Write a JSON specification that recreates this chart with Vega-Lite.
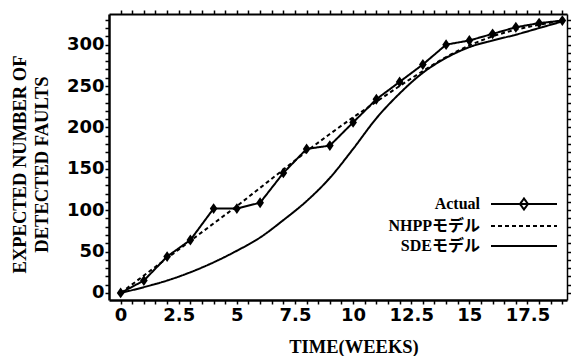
{
  "$schema": "https://vega.github.io/schema/vega-lite/v6.json",
  "width": 458,
  "height": 286,
  "autosize": "none",
  "padding": {"left": 109, "top": 14, "right": 4, "bottom": 56},
  "background": "white",
  "config": {
    "view": {"stroke": null},
    "axis": {"grid": false, "domainColor": "black", "tickColor": "black", "labelColor": "black", "titleColor": "black"}
  },
  "data": {"values": [
    {"series": "Actual", "t": 0, "y": 0}, {"series": "Actual", "t": 1, "y": 15}, {"series": "Actual", "t": 2, "y": 44}, {"series": "Actual", "t": 3, "y": 64}, {"series": "Actual", "t": 4, "y": 102}, {"series": "Actual", "t": 5, "y": 102}, {"series": "Actual", "t": 6, "y": 109}, {"series": "Actual", "t": 7, "y": 145}, {"series": "Actual", "t": 8, "y": 174}, {"series": "Actual", "t": 9, "y": 178}, {"series": "Actual", "t": 10, "y": 206}, {"series": "Actual", "t": 11, "y": 234}, {"series": "Actual", "t": 12, "y": 255}, {"series": "Actual", "t": 13, "y": 276}, {"series": "Actual", "t": 14, "y": 300}, {"series": "Actual", "t": 15, "y": 305}, {"series": "Actual", "t": 16, "y": 313}, {"series": "Actual", "t": 17, "y": 321}, {"series": "Actual", "t": 18, "y": 326}, {"series": "Actual", "t": 19, "y": 329},
    {"series": "NHPPモデル", "t": 0, "y": 0}, {"series": "NHPPモデル", "t": 1, "y": 21}, {"series": "NHPPモデル", "t": 2, "y": 42}, {"series": "NHPPモデル", "t": 3, "y": 63}, {"series": "NHPPモデル", "t": 4, "y": 84}, {"series": "NHPPモデル", "t": 5, "y": 105}, {"series": "NHPPモデル", "t": 6, "y": 127}, {"series": "NHPPモデル", "t": 7, "y": 149}, {"series": "NHPPモデル", "t": 8, "y": 171}, {"series": "NHPPモデル", "t": 9, "y": 192}, {"series": "NHPPモデル", "t": 10, "y": 212}, {"series": "NHPPモデル", "t": 11, "y": 231}, {"series": "NHPPモデル", "t": 12, "y": 250}, {"series": "NHPPモデル", "t": 13, "y": 268}, {"series": "NHPPモデル", "t": 14, "y": 285}, {"series": "NHPPモデル", "t": 15, "y": 299}, {"series": "NHPPモデル", "t": 16, "y": 310}, {"series": "NHPPモデル", "t": 17, "y": 318}, {"series": "NHPPモデル", "t": 18, "y": 324}, {"series": "NHPPモデル", "t": 19, "y": 329},
    {"series": "SDEモデル", "t": 0, "y": 0}, {"series": "SDEモデル", "t": 1, "y": 7}, {"series": "SDEモデル", "t": 2, "y": 15}, {"series": "SDEモデル", "t": 3, "y": 25}, {"series": "SDEモデル", "t": 4, "y": 37}, {"series": "SDEモデル", "t": 5, "y": 51}, {"series": "SDEモデル", "t": 6, "y": 67}, {"series": "SDEモデル", "t": 7, "y": 88}, {"series": "SDEモデル", "t": 8, "y": 111}, {"series": "SDEモデル", "t": 9, "y": 139}, {"series": "SDEモデル", "t": 10, "y": 174}, {"series": "SDEモデル", "t": 11, "y": 211}, {"series": "SDEモデル", "t": 12, "y": 241}, {"series": "SDEモデル", "t": 13, "y": 266}, {"series": "SDEモデル", "t": 14, "y": 284}, {"series": "SDEモデル", "t": 15, "y": 297}, {"series": "SDEモデル", "t": 16, "y": 305}, {"series": "SDEモデル", "t": 17, "y": 312}, {"series": "SDEモデル", "t": 18, "y": 320}, {"series": "SDEモデル", "t": 19, "y": 328}
  ]},
  "layer": [
    {
      "transform": [{"filter": "datum.series !== 'Actual'"}],
      "mark": {"type": "line", "interpolate": "monotone", "strokeWidth": 2, "color": "black"},
      "encoding": {
        "x": {"field": "t", "type": "quantitative",
          "scale": {"domain": [-0.5, 19.2], "nice": false, "zero": false},
          "axis": {"orient": "bottom", "title": "TIME(WEEKS)", "format": "~g",
            "values": [0,0.5,1,1.5,2,2.5,3,3.5,4,4.5,5,5.5,6,6.5,7,7.5,8,8.5,9,9.5,10,10.5,11,11.5,12,12.5,13,13.5,14,14.5,15,15.5,16,16.5,17,17.5,18,18.5,19],
            "labelExpr": "datum.value % 2.5 === 0 ? datum.label : ''",
            "labelFont": "DejaVu Sans", "labelFontWeight": "bold", "labelFontSize": 18,
            "labelPadding": 2, "labelOverlap": false, "labelFlush": false,
            "ticks": true, "tickSize": 4, "tickWidth": 1.5, "domainWidth": 2.5,
            "encode": {"ticks": {"update": {"y2": {"value": -4}}}},
            "titleFont": "Liberation Serif", "titleFontSize": 18.5, "titleFontWeight": "bold",
            "titleX": 244.5, "titleY": 52, "titleBaseline": "alphabetic", "titleAlign": "center"}},
        "y": {"field": "y", "type": "quantitative",
          "scale": {"domain": [-8.5, 337], "nice": false, "zero": false},
          "axis": {"orient": "left", "title": ["EXPECTED NUMBER OF", "DETECTED FAULTS"],
            "values": [0,10,20,30,40,50,60,70,80,90,100,110,120,130,140,150,160,170,180,190,200,210,220,230,240,250,260,270,280,290,300,310,320,330],
            "labelExpr": "datum.value % 50 === 0 ? datum.label : ''",
            "labelFont": "DejaVu Sans", "labelFontWeight": "bold", "labelFontSize": 18,
            "labelPadding": 1, "labelOverlap": false, "labelFlush": false,
            "ticks": true, "tickSize": 4, "tickWidth": 1.5, "domainWidth": 2.5,
            "encode": {"ticks": {"update": {"x2": {"value": 4}}}},
            "titleFont": "Liberation Serif", "titleFontSize": 18.5, "titleFontWeight": "bold",
            "titleX": -90, "titleY": 150, "titleAngle": -90, "titleBaseline": "middle", "titleAlign": "center", "titleLineHeight": 22}},
        "strokeDash": {"field": "series", "type": "nominal",
          "scale": {"domain": ["Actual", "NHPPモデル", "SDEモデル"], "range": [[1, 0], [4, 3], [1, 0]]},
          "legend": {"orient": "none", "legendX": 366, "legendY": 182, "title": null,
            "symbolType": {"expr": "datum.value === 'Actual' ? 'M-6.6,0H6.6M0,-1.1L0.8,0L0,1.1L-0.8,0Z' : 'M-6.6,0H6.6'"},
            "symbolSize": 100, "symbolStrokeWidth": 2, "symbolOffset": 41,
            "labelAlign": "right", "labelOffset": -52,
            "labelFont": "Liberation Serif, Noto Sans CJK JP", "labelFontSize": 16, "labelFontWeight": "bold", "labelColor": "black",
            "rowPadding": 4, "padding": 0,
            "encode": {"symbols": {"fill": {"value": "black"}, "fillOpacity": {"value": 1}, "stroke": {"value": "black"}}}}}
      }
    },
    {
      "transform": [{"filter": "datum.series === 'Actual'"}],
      "mark": {"type": "line", "strokeWidth": 2, "color": "black"},
      "encoding": {
        "x": {"field": "t", "type": "quantitative", "axis": null},
        "y": {"field": "y", "type": "quantitative", "axis": null},
        "strokeDash": {"field": "series", "type": "nominal"}
      }
    },
    {
      "transform": [{"filter": "datum.series === 'Actual'"}],
      "mark": {"type": "point", "shape": "M0,-1.2L0.85,0L0,1.2L-0.85,0Z", "filled": true, "size": 81, "color": "black", "opacity": 1},
      "encoding": {
        "x": {"field": "t", "type": "quantitative",
          "axis": {"orient": "top", "title": null, "labels": false,
            "values": [0,0.5,1,1.5,2,2.5,3,3.5,4,4.5,5,5.5,6,6.5,7,7.5,8,8.5,9,9.5,10,10.5,11,11.5,12,12.5,13,13.5,14,14.5,15,15.5,16,16.5,17,17.5,18,18.5,19],
            "ticks": true, "tickSize": 4, "tickWidth": 1.5, "domainWidth": 2,
            "encode": {"ticks": {"update": {"y2": {"value": 4}}}}}},
        "y": {"field": "y", "type": "quantitative",
          "axis": {"orient": "right", "title": null, "labels": false,
            "values": [0,10,20,30,40,50,60,70,80,90,100,110,120,130,140,150,160,170,180,190,200,210,220,230,240,250,260,270,280,290,300,310,320,330],
            "ticks": true, "tickSize": 4, "tickWidth": 1.5, "domainWidth": 1.5,
            "encode": {"ticks": {"update": {"x2": {"value": -4}}}}}}
      }
    }
  ],
  "resolve": {"axis": {"x": "independent", "y": "independent"}}
}
